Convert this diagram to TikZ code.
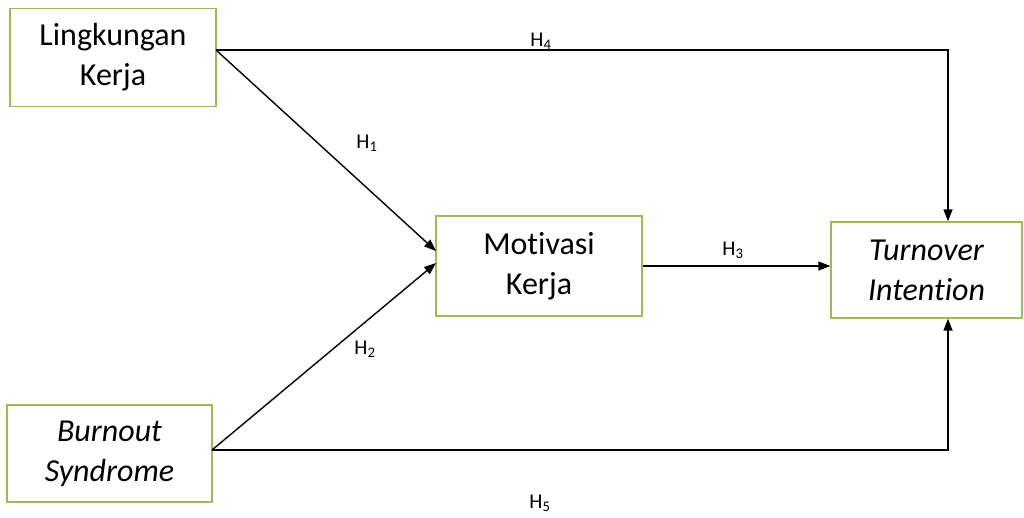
\documentclass[tikz,border=0pt]{standalone}
\usepackage{fontspec}
\setmainfont[Ligatures=NoCommon]{Carlito}
\usetikzlibrary{arrows.meta}
\definecolor{boxgreen}{HTML}{9BBB59}
\tikzset{
  varbox/.style={draw=boxgreen, line width=1.3pt, fill=white, align=center,
    inner sep=0pt, font=\fontsize{32}{40}\selectfont},
  link/.style={draw=black, line width=1.4pt,
    -{Triangle[length=12pt,width=9pt]}},
  hyp/.style={font=\fontsize{21}{24}\selectfont, inner sep=0pt}
}
\begin{document}
\begin{tikzpicture}[x=1pt,y=-1pt]
\useasboundingbox (0,0) rectangle (1024,517);

% variables
\node[varbox, minimum width=206pt, minimum height=98pt] (LK) at (113,57.5) {Lingkungan\\Kerja};
\node[varbox, minimum width=205pt, minimum height=97pt] (BS) at (109.5,453.5) {\itshape Burnout\\\itshape Syndrome};
\node[varbox, minimum width=206pt, minimum height=100pt] (MK) at (539,266) {Motivasi\\Kerja};
\node[varbox, minimum width=191pt, minimum height=96pt] (TI) at (926.5,270) {\itshape Turnover\\\itshape Intention};

% connection points
\coordinate (lkout) at (216,50);
\coordinate (bsout) at (212,450);
\coordinate (mkin1) at (436,251);
\coordinate (mkin2) at (436,263);
\coordinate (top) at (948,50);
\coordinate (bottom) at (948,450);

% paths
\draw[link] (lkout) -- (top) -- (top |- TI.north);
\draw[link] (lkout) -- (mkin1);
\draw[link] (bsout) -- (mkin2);
\draw[link] (MK.east) -- (TI.west |- MK.east);
\draw[link] (bsout) -- (bottom) -- (bottom |- TI.south);

% hypothesis labels
\node[hyp] (h4) at (541,41) {H\textsubscript{4}};
\node[hyp] (h1) at (367,143) {H\textsubscript{1}};
\node[hyp] (h2) at (365,349) {H\textsubscript{2}};
\node[hyp] (h3) at (733,250) {H\textsubscript{3}};
\node[hyp] (h5) at (540,503) {H\textsubscript{5}};
\end{tikzpicture}
\end{document}
